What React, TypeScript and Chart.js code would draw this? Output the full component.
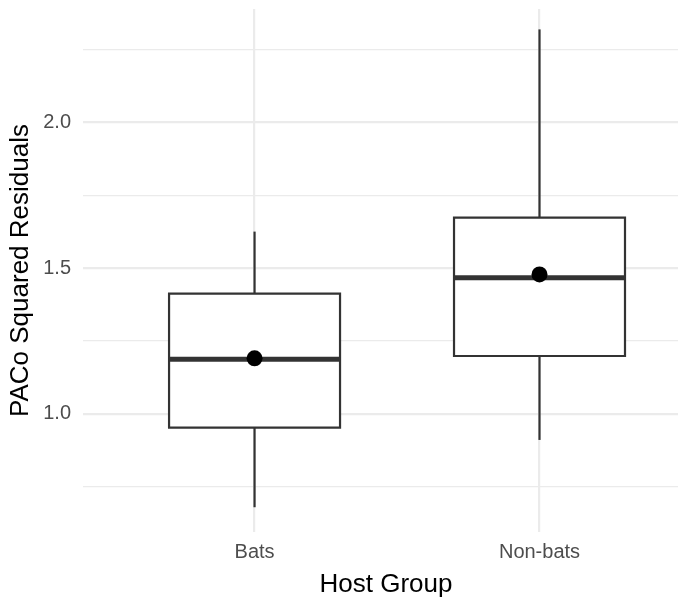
import React, { useEffect, useRef } from 'react';
import { Chart, registerables } from 'chart.js';

Chart.register(...registerables);

// ---- data ----
const categories = ['Bats', 'Non-bats'];
const whiskerLow = [0.679, 0.91];
const lowerQuartile = [0.952, 1.198];
const medians = [1.187, 1.467];
const upperQuartile = [1.412, 1.673];
const whiskerHigh = [1.625, 2.319];
const means = [1.19, 1.478];

const majorYTicks = [1.0, 1.5, 2.0];
const minorYTicks = [0.75, 1.25, 1.75, 2.25];

const xTitle = 'Host Group';
const yTitle = 'PACo Squared Residuals';

// ---- style ----
const BOX_HALF = 0.3;
const INK = '#333333';
const GRID = '#ebebeb';
const FONT = '"Liberation Sans", Arial, Helvetica, sans-serif';
const CANVAS_W = 689;
const CANVAS_H = 600;

function buildDatasets() {
  const ds: any[] = [];
  categories.forEach((_, i) => {
    const x = i + 1;
    // whiskers
    ds.push({
      data: [{ x, y: upperQuartile[i] }, { x, y: whiskerHigh[i] }],
      showLine: true, borderColor: INK, borderWidth: 2.2, pointRadius: 0, fill: false, order: 5,
    });
    ds.push({
      data: [{ x, y: whiskerLow[i] }, { x, y: lowerQuartile[i] }],
      showLine: true, borderColor: INK, borderWidth: 2.2, pointRadius: 0, fill: false, order: 5,
    });
    // box fill (white) between bottom and top edges
    const bottomIdx = ds.length;
    ds.push({
      data: [{ x: x - BOX_HALF, y: lowerQuartile[i] }, { x: x + BOX_HALF, y: lowerQuartile[i] }],
      showLine: true, borderWidth: 0, borderColor: 'rgba(0,0,0,0)', pointRadius: 0, fill: false, order: 4,
    });
    ds.push({
      data: [{ x: x - BOX_HALF, y: upperQuartile[i] }, { x: x + BOX_HALF, y: upperQuartile[i] }],
      showLine: true, borderWidth: 0, borderColor: 'rgba(0,0,0,0)', pointRadius: 0,
      fill: bottomIdx, backgroundColor: '#ffffff', order: 4,
    });
    // box outline
    ds.push({
      data: [
        { x: x - BOX_HALF, y: lowerQuartile[i] },
        { x: x + BOX_HALF, y: lowerQuartile[i] },
        { x: x + BOX_HALF, y: upperQuartile[i] },
        { x: x - BOX_HALF, y: upperQuartile[i] },
        { x: x - BOX_HALF, y: lowerQuartile[i] },
      ],
      showLine: true, borderColor: INK, borderWidth: 2.2, pointRadius: 0, fill: false,
      borderCapStyle: 'square', borderJoinStyle: 'miter', order: 3,
    });
    // median
    ds.push({
      data: [{ x: x - BOX_HALF, y: medians[i] }, { x: x + BOX_HALF, y: medians[i] }],
      showLine: true, borderColor: INK, borderWidth: 5, pointRadius: 0, fill: false, order: 2,
    });
  });
  // means
  ds.push({
    data: categories.map((_, i) => ({ x: i + 1, y: means[i] })),
    showLine: false, pointRadius: 8, pointBackgroundColor: '#000000', pointBorderWidth: 0,
    pointBorderColor: '#000000', order: 1,
  });
  return ds;
}

export default function App() {
  const ref = useRef<HTMLCanvasElement | null>(null);

  useEffect(() => {
    document.body.style.margin = '0';
    if (!ref.current) return;
    const isMajor = (v: number) => majorYTicks.some((m) => Math.abs(m - v) < 1e-6);
    const chart = new Chart(ref.current, {
      type: 'scatter',
      data: { datasets: buildDatasets() },
      options: {
        animation: false,
        responsive: false,
        events: [],
        layout: { padding: { top: 9, left: 0, right: 0, bottom: 0 }, autoPadding: false },
        plugins: { legend: { display: false }, tooltip: { enabled: false } },
        scales: {
          x: {
            type: 'linear',
            min: 0.398,
            max: 2.5246,
            afterBuildTicks: (scale: any) => {
              scale.ticks = categories.map((_, i) => ({ value: i + 1 }));
            },
            afterFit: (scale: any) => {
              scale.height = 68;
              scale.paddingLeft = 0;
              scale.paddingRight = 0;
            },
            ticks: {
              autoSkip: false,
              maxRotation: 0,
              padding: 8,
              color: '#4d4d4d',
              font: { family: FONT, size: 20 },
              callback: (v: any) => categories[Math.round(Number(v)) - 1] ?? '',
            },
            grid: { color: GRID, lineWidth: 2.2, drawTicks: false },
            border: { display: false },
            title: {
              display: true,
              text: xTitle,
              color: '#000000',
              font: { family: FONT, size: 26 },
              padding: { top: 0, bottom: 0 },
            },
          },
          y: {
            type: 'linear',
            min: 0.594,
            max: 2.389,
            afterBuildTicks: (scale: any) => {
              scale.ticks = [...majorYTicks, ...minorYTicks]
                .sort((a, b) => a - b)
                .map((v) => ({ value: v }));
            },
            afterFit: (scale: any) => {
              scale.width = 83;
              scale.paddingTop = 0;
              scale.paddingBottom = 0;
            },
            ticks: {
              autoSkip: false,
              padding: 12,
              color: '#4d4d4d',
              font: { family: FONT, size: 20 },
              callback: (v: any) => (isMajor(Number(v)) ? Number(v).toFixed(1) : ''),
            },
            grid: {
              color: GRID,
              drawTicks: false,
              lineWidth: (ctx: any) => (ctx.tick && isMajor(ctx.tick.value) ? 2.2 : 1.2),
            },
            border: { display: false },
            title: {
              display: true,
              text: yTitle,
              color: '#000000',
              font: { family: FONT, size: 26 },
              padding: { top: 5.4, bottom: 0 },
            },
          },
        },
      } as any,
    });
    return () => chart.destroy();
  }, []);

  return (
    <div style={{ width: 678, height: CANVAS_H, overflow: 'hidden', background: '#ffffff' }}>
      <canvas
        ref={ref}
        width={CANVAS_W}
        height={CANVAS_H}
        style={{ display: 'block', width: CANVAS_W, height: CANVAS_H }}
      />
    </div>
  );
}
